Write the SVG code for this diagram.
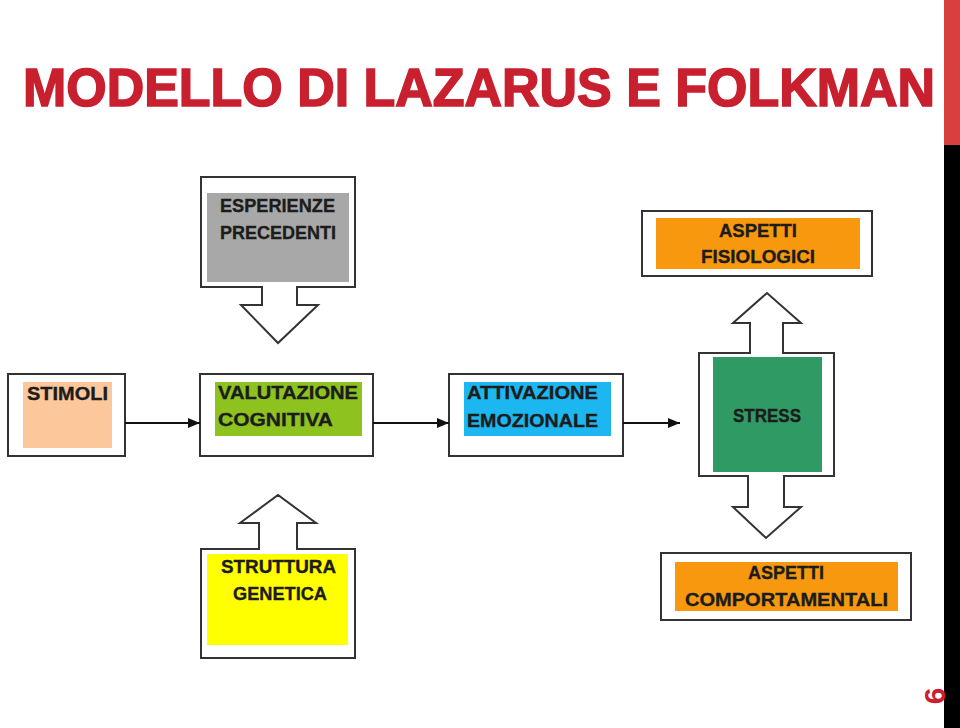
<svg xmlns="http://www.w3.org/2000/svg" width="960" height="728" viewBox="0 0 960 728">
<defs>
<style>
.box{fill:#fff;stroke:#333;stroke-width:2}
.lbl{font-family:"Liberation Sans",Arial,sans-serif;font-weight:bold;font-size:19px;fill:#1c1c1c;stroke:#1c1c1c;stroke-width:0.35}
.conn{stroke:#111;stroke-width:1.8;fill:none;marker-end:url(#ah)}
</style>
<marker id="ah" markerWidth="12" markerHeight="10" refX="12" refY="5" orient="auto" markerUnits="userSpaceOnUse">
<path d="M0,0 L12,5 L0,10 Z" fill="#111"/>
</marker>
</defs>
<rect width="960" height="728" fill="#fff"/>
<rect x="944" y="0" width="16" height="145" fill="#d93f3f"/>
<rect x="944" y="145" width="16" height="583" fill="#000"/>
<text x="23" y="106" font-family="'Liberation Sans',Arial,sans-serif" font-weight="bold" font-size="54" fill="#c8202e" stroke="#c8202e" stroke-width="1.6" textLength="912" lengthAdjust="spacingAndGlyphs">MODELLO DI LAZARUS E FOLKMAN</text>
<text transform="translate(945,696) rotate(-90)" text-anchor="middle" font-family="'Liberation Sans',Arial,sans-serif" font-weight="bold" font-size="30" fill="#c8202e">6</text>

<g id="esperienze">
<path class="box" d="M201,177 H355 V287 H297 V305 H318 L278,343 L241,305 H262 V287 H201 Z"/>
<rect x="207" y="193" width="142" height="89" fill="#a8a8a8"/>
<text class="lbl" x="220" y="212" textLength="115" lengthAdjust="spacingAndGlyphs">ESPERIENZE</text>
<text class="lbl" x="220" y="239" textLength="116" lengthAdjust="spacingAndGlyphs">PRECEDENTI</text>
</g>

<g id="stimoli">
<rect class="box" x="8" y="374" width="117" height="82"/>
<rect x="23" y="382" width="89" height="66" fill="#fbc79b"/>
<text class="lbl" x="27" y="400" textLength="81" lengthAdjust="spacingAndGlyphs">STIMOLI</text>
</g>

<g id="valutazione">
<rect class="box" x="200" y="374" width="173" height="82"/>
<rect x="215" y="382" width="147" height="54" fill="#8dc21f"/>
<text class="lbl" x="218" y="399" textLength="140" lengthAdjust="spacingAndGlyphs">VALUTAZIONE</text>
<text class="lbl" x="218" y="426" textLength="115" lengthAdjust="spacingAndGlyphs">COGNITIVA</text>
</g>

<g id="attivazione">
<rect class="box" x="449" y="374" width="174" height="82"/>
<rect x="464" y="382" width="147" height="54" fill="#1cb6f0"/>
<text class="lbl" x="467" y="399" textLength="131" lengthAdjust="spacingAndGlyphs">ATTIVAZIONE</text>
<text class="lbl" x="467" y="427" textLength="131" lengthAdjust="spacingAndGlyphs">EMOZIONALE</text>
</g>

<g id="stress">
<path class="box" d="M699,353 H750 V323 H733 L767,293 L801,323 H783 V353 H834 V476 H784 V507 H801 L766,538 L733,507 H748 V476 H699 Z"/>
<rect x="713" y="357" width="109" height="115" fill="#2f9a63"/>
<text class="lbl" x="733" y="422" textLength="68" lengthAdjust="spacingAndGlyphs">STRESS</text>
</g>

<g id="fisiologici">
<rect class="box" x="642" y="211" width="230" height="65"/>
<rect x="656" y="218" width="204" height="51" fill="#f8980f"/>
<text class="lbl" x="719" y="237" textLength="78" lengthAdjust="spacingAndGlyphs">ASPETTI</text>
<text class="lbl" x="701" y="263" textLength="114" lengthAdjust="spacingAndGlyphs">FISIOLOGICI</text>
</g>

<g id="comportamentali">
<rect class="box" x="661" y="553" width="250" height="67"/>
<rect x="675" y="562" width="223" height="49" fill="#f8980f"/>
<text class="lbl" x="748" y="579" textLength="76" lengthAdjust="spacingAndGlyphs">ASPETTI</text>
<text class="lbl" x="685" y="606" textLength="203" lengthAdjust="spacingAndGlyphs">COMPORTAMENTALI</text>
</g>

<g id="struttura">
<path class="box" d="M201,549 H259 V523 H240 L278,495 L316,523 H297 V549 H355 V658 H201 Z"/>
<rect x="207" y="554" width="141" height="91" fill="#ffff00"/>
<text class="lbl" x="221" y="573" textLength="115" lengthAdjust="spacingAndGlyphs">STRUTTURA</text>
<text class="lbl" x="233" y="600" textLength="94" lengthAdjust="spacingAndGlyphs">GENETICA</text>
</g>

<g id="connectors">
<line class="conn" x1="125" y1="423" x2="200" y2="423"/>
<line class="conn" x1="373" y1="423" x2="449" y2="423"/>
<line class="conn" x1="623" y1="423" x2="680" y2="423"/>
</g>
</svg>
